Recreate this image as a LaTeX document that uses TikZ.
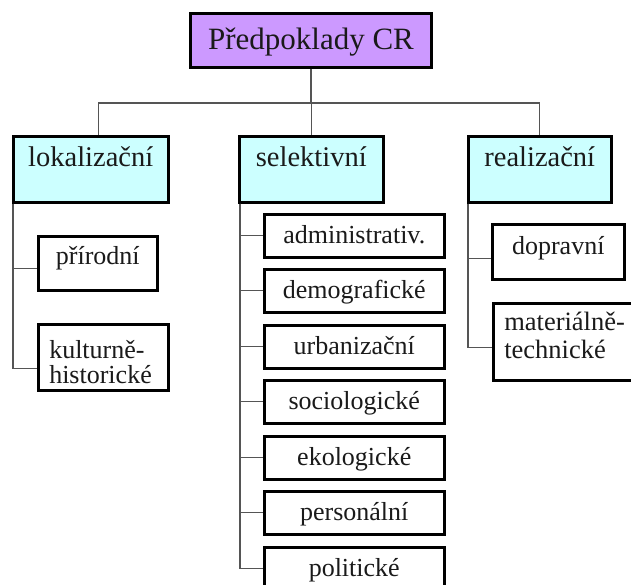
\documentclass[tikz,border=0pt]{standalone}
\usepackage{fontspec}
\setmainfont{Liberation Serif}
\definecolor{topfill}{HTML}{CC99FF}
\definecolor{midfill}{HTML}{CCFFFF}
\definecolor{conncol}{HTML}{555555}
\definecolor{txt}{HTML}{1A1A1A}
\begin{document}
\begin{tikzpicture}[x=1pt,y=-1pt,
  box/.style={draw=black, line width=2.5pt, rectangle, inner sep=0pt, anchor=north west, text=txt},
  topbox/.style={box, fill=topfill, line width=3pt, font=\fontsize{31}{36}\selectfont},
  midbox/.style={box, fill=midfill, font=\fontsize{28.5}{32}\selectfont, minimum height=66, text height=30, text depth=36},
  leafbox/.style={box, fill=white, font=\fontsize{26}{30}\selectfont},
  selbox/.style={leafbox, minimum width=180, text height=29, text depth=14},
  twobox/.style={box, fill=white, align=left, inner xsep=11pt, inner ysep=0pt},
  conn/.style={draw=conncol, line width=1.1pt}
]
\useasboundingbox (0,0) rectangle (631,584);
% top
\node[topbox, minimum width=241, text height=36, text depth=18] (top) at (189,12) {Předpoklady CR};
% level 2
\node[midbox, minimum width=155] (lok) at (12,135) {lokalizační};
\node[midbox, minimum width=144] (sel) at (238,135) {selektivní};
\node[midbox, minimum width=143] (real) at (467,135) {realizační};
% left leaves
\node[leafbox, minimum width=119, text height=28, text depth=26] (prir) at (37,235) {přírodní};
\node[twobox, font=\fontsize{26}{25}\selectfont, minimum width=130, text width=108, text height=34, text depth=32] (kult) at (37,323) {kulturně-\\historické};
% selective leaves
\node[selbox] (s1) at (263,213) {administrativ.};
\node[selbox] (s2) at (263,268) {demografické};
\node[selbox] (s3) at (263,324) {urbanizační};
\node[selbox] (s4) at (263,379) {sociologické};
\node[selbox] (s5) at (263,435) {ekologické};
\node[selbox] (s6) at (263,490) {personální};
\node[selbox] (s7) at (263,546) {politické};
% right leaves
\node[leafbox, minimum width=132, text height=30, text depth=25] (dop) at (491,223) {dopravní};
\node[twobox, font=\fontsize{26.5}{28}\selectfont, minimum width=141, text width=130, text height=27, text depth=50] (mat) at (492,302) {materiálně-\\technické};
% connectors
\coordinate (bus) at (top.south |- 0,103);
\draw[conn] (top.south) -- (bus);
\draw[conn] ([xshift=7.5pt]lok.north) |- (bus) -| (real.north);
\draw[conn] (sel.north |- bus) -- (sel.north);
\draw[conn] ([xshift=1pt]lok.south west) |- ([yshift=-5pt]prir.west);
\draw[conn] ([xshift=1pt]lok.south west) |- ([yshift=-11pt]kult.west);
\foreach \n in {s1,s2,s3,s4,s5,s6,s7}{
  \draw[conn] ([xshift=2pt]sel.south west) |- (\n.west);
}
\draw[conn] ([xshift=1pt]real.south west) |- ([yshift=-6.5pt]dop.west);
\draw[conn] ([xshift=1pt]real.south west) |- ([yshift=-5.5pt]mat.west);
\end{tikzpicture}
\end{document}
